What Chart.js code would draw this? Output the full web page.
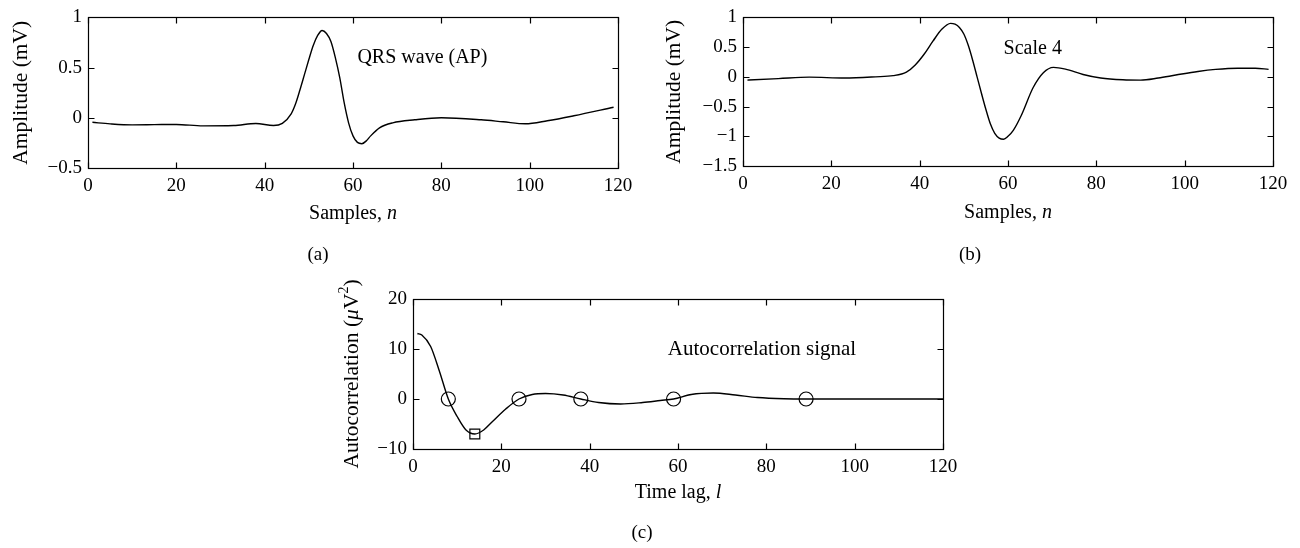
<!DOCTYPE html>
<html>
<head>
<meta charset="utf-8">
<script src="https://cdn.jsdelivr.net/npm/chart.js@4.4.1/dist/chart.umd.min.js"></script>
<style>
html, body { margin: 0; padding: 0; background: #fff; }
body { width: 1300px; height: 548px; position: relative; overflow: hidden; }
canvas { position: absolute; }
</style>
</head>
<body>
<canvas id="chartA" width="650" height="275" style="left:0;top:0"></canvas>
<canvas id="chartB" width="650" height="275" style="left:650px;top:0"></canvas>
<canvas id="chartC" width="700" height="268" style="left:300px;top:280px"></canvas>
<script>
// (a) QRS wave (AP)
const qrsSamples = [1, 5, 10, 15, 20, 26, 33, 38, 42, 44, 46, 47, 48, 49, 50, 51, 52, 53, 54, 55, 56, 57, 58, 59, 60, 61, 62, 63, 64, 66, 69, 74, 80, 89, 94, 99, 104, 110, 119];
const qrsValues  = [-0.045, -0.06, -0.07, -0.068, -0.066, -0.08, -0.077, -0.057, -0.077, -0.055, 0.04, 0.14, 0.28, 0.43, 0.58, 0.72, 0.82, 0.87, 0.84, 0.76, 0.6, 0.4, 0.15, -0.05, -0.18, -0.245, -0.258, -0.23, -0.18, -0.1, -0.05, -0.02, 0.0, -0.02, -0.04, -0.06, -0.03, 0.02, 0.105];

// (b) Scale 4
const scaleSamples = [1, 8, 15, 23, 30, 34, 37, 39, 41, 43, 45, 47, 48, 49, 50, 51, 52, 53, 54, 55, 56, 57, 58, 59, 60, 61.2, 63, 65.7, 68, 70.3, 73, 77, 81, 86, 90, 94, 98, 103, 107, 112, 116, 119];
const scaleValues  = [-0.055, -0.03, -0.005, -0.02, 0.0, 0.02, 0.08, 0.2, 0.38, 0.6, 0.8, 0.9, 0.885, 0.83, 0.72, 0.53, 0.28, 0.0, -0.28, -0.55, -0.79, -0.95, -1.03, -1.05, -1.0, -0.9, -0.65, -0.18, 0.07, 0.16, 0.13, 0.04, -0.02, -0.05, -0.055, -0.02, 0.03, 0.09, 0.125, 0.145, 0.145, 0.125];

// (c) Autocorrelation signal
const lagValues = [1, 2, 4, 6, 8, 10, 12, 14, 16, 18, 21, 24, 27, 30, 34, 38, 42, 47, 52, 56, 59, 63, 68, 73, 78, 84, 89, 100, 110, 120];
const acValues  = [13.1, 12.8, 10.5, 5.5, 0, -3.5, -6.2, -7, -6.2, -4.5, -2, 0, 0.9, 1.1, 0.8, 0, -0.7, -1.0, -0.7, -0.3, 0, 0.9, 1.2, 0.8, 0.3, 0.05, 0, 0, 0, 0];
const zeroLags = [8, 24, 38, 59, 89];
const zeroValues = [0, 0, 0, 0, 0];
const minLags = [14];
const minValues = [-7];

// ticks
const xTicks = [0, 20, 40, 60, 80, 100, 120];
const yTicksA = [-0.5, 0, 0.5, 1];
const yTicksB = [-1.5, -1, -0.5, 0, 0.5, 1];
const yTicksC = [-10, 0, 10, 20];

const FAMILY = '"Liberation Serif", "DejaVu Serif", serif';

function fontFor(seg, size) {
    const s = seg.sup ? Math.round(size * 0.65) : size;
    return (seg.italic ? 'italic ' : '') + s + 'px ' + FAMILY;
}

// draw text made of upright / italic / superscript pieces
function drawRich(ctx, segs, x, y, size, angle, align) {
    ctx.save();
    ctx.translate(x, y);
    ctx.rotate(angle || 0);
    const widths = segs.map(s => { ctx.font = fontFor(s, size); return ctx.measureText(s.t).width; });
    const total = widths.reduce((a, b) => a + b, 0);
    let cx = align === 'left' ? 0 : -total / 2;
    ctx.textBaseline = 'middle';
    ctx.textAlign = 'left';
    ctx.fillStyle = '#000';
    segs.forEach((s, i) => {
        ctx.font = fontFor(s, size);
        ctx.fillText(s.t, cx, s.sup ? -size * 0.36 : 0);
        cx += widths[i];
    });
    ctx.restore();
}

// box, inward ticks, titles and notes
const framePlugin = {
    id: 'frame',
    afterDraw(chart, args, opts) {
        const ctx = chart.ctx;
        const a = chart.chartArea;
        const xs = chart.scales.x, ys = chart.scales.y;
        const L = Math.round(a.left) + 0.5, R = Math.round(a.right) + 0.5;
        const T = Math.round(a.top) + 0.5, B = Math.round(a.bottom) + 0.5;
        ctx.save();
        ctx.strokeStyle = '#000';
        ctx.lineWidth = 1.2;
        ctx.strokeRect(L, T, R - L, B - T);
        ctx.beginPath();
        const tl = 6;
        xs.ticks.forEach(t => {
            const px = Math.round(xs.getPixelForValue(t.value)) + 0.5;
            ctx.moveTo(px, B); ctx.lineTo(px, B - tl);
            ctx.moveTo(px, T); ctx.lineTo(px, T + tl);
        });
        ys.ticks.forEach(t => {
            const py = Math.round(ys.getPixelForValue(t.value)) + 0.5;
            ctx.moveTo(L, py); ctx.lineTo(L + tl, py);
            ctx.moveTo(R, py); ctx.lineTo(R - tl, py);
        });
        ctx.stroke();
        ctx.restore();

        const cxArea = (a.left + a.right) / 2;
        const cyArea = (a.top + a.bottom) / 2;
        drawRich(ctx, opts.xTitle, cxArea, a.bottom + opts.xTitleOffset, 20, 0);
        drawRich(ctx, opts.yTitle, a.left - opts.yTitleOffset, cyArea, 21.5, -Math.PI / 2);
        drawRich(ctx, [{ t: opts.caption }], opts.captionX, a.bottom + opts.captionOffset, 19, 0);
        drawRich(ctx, [{ t: opts.note.text }], xs.getPixelForValue(opts.note.x), ys.getPixelForValue(opts.note.y), opts.note.size, 0, 'left');
    }
};

function minusSign(v) {
    return String(v).replace('-', '\u2212');
}

function curve(xv, yv) {
    return {
        data: xv.map((x, i) => ({ x: x, y: yv[i] })),
        borderColor: '#000',
        borderWidth: 1.4,
        pointRadius: 0,
        fill: false,
        cubicInterpolationMode: 'monotone'
    };
}

function markers(xv, yv, style, radius) {
    return {
        data: xv.map((x, i) => ({ x: x, y: yv[i] })),
        showLine: false,
        pointStyle: style,
        pointRadius: radius,
        pointBorderColor: '#000',
        pointBackgroundColor: 'rgba(0,0,0,0)',
        pointBorderWidth: 1.2
    };
}

function makePanel(id, cfg) {
    const tickFont = { family: FAMILY, size: 19 };
    return new Chart(document.getElementById(id).getContext('2d'), {
        type: 'line',
        data: { datasets: cfg.datasets },
        options: {
            responsive: false,
            animation: false,
            layout: { padding: { top: cfg.padTop, right: cfg.padRight, left: 0, bottom: 0 } },
            plugins: {
                legend: { display: false },
                tooltip: { enabled: false },
                frame: cfg.frame
            },
            scales: {
                x: {
                    type: 'linear',
                    min: 0,
                    max: 120,
                    grid: { display: false, drawTicks: false },
                    border: { display: false },
                    afterBuildTicks: s => { s.ticks = xTicks.map(v => ({ value: v })); },
                    afterFit: s => { s.height = cfg.xHeight; },
                    ticks: { font: tickFont, color: '#000', padding: 7, maxRotation: 0, autoSkip: false, callback: minusSign }
                },
                y: {
                    type: 'linear',
                    min: cfg.yMin,
                    max: cfg.yMax,
                    grid: { display: false, drawTicks: false },
                    border: { display: false },
                    afterBuildTicks: s => { s.ticks = cfg.yTicks.map(v => ({ value: v })); },
                    afterFit: s => { s.width = cfg.yWidth; },
                    ticks: { font: tickFont, color: '#000', padding: 6, autoSkip: false, callback: minusSign }
                }
            }
        },
        plugins: [framePlugin]
    });
}

const samplesTitle = [{ t: 'Samples, ' }, { t: 'n', italic: true }];
const ampTitle = [{ t: 'Amplitude (mV)' }];

makePanel('chartA', {
    datasets: [curve(qrsSamples, qrsValues)],
    padTop: 17, padRight: 32, xHeight: 107, yWidth: 88,
    yMin: -0.5, yMax: 1, yTicks: yTicksA,
    frame: {
        xTitle: samplesTitle, xTitleOffset: 46,
        yTitle: ampTitle, yTitleOffset: 67,
        caption: '(a)', captionX: 318, captionOffset: 87,
        note: { text: 'QRS wave (AP)', x: 61, y: 0.6, size: 20 }
    }
});

makePanel('chartB', {
    datasets: [curve(scaleSamples, scaleValues)],
    padTop: 16, padRight: 27, xHeight: 109, yWidth: 93,
    yMin: -1.5, yMax: 1, yTicks: yTicksB,
    frame: {
        xTitle: samplesTitle, xTitleOffset: 47,
        yTitle: ampTitle, yTitleOffset: 69,
        caption: '(b)', captionX: 320, captionOffset: 89,
        note: { text: 'Scale 4', x: 59, y: 0.48, size: 20 }
    }
});

makePanel('chartC', {
    datasets: [
        curve(lagValues, acValues),
        markers(zeroLags, zeroValues, 'circle', 7),
        markers(minLags, minValues, 'rect', 7)
    ],
    padTop: 19, padRight: 57, xHeight: 99, yWidth: 113,
    yMin: -10, yMax: 20, yTicks: yTicksC,
    frame: {
        xTitle: [{ t: 'Time lag, ' }, { t: 'l', italic: true }], xTitleOffset: 44,
        yTitle: [{ t: 'Autocorrelation (' }, { t: '\u03bc', italic: true }, { t: 'V' }, { t: '2', sup: true }, { t: ')' }], yTitleOffset: 61,
        caption: '(c)', captionX: 342, captionOffset: 84,
        note: { text: 'Autocorrelation signal', x: 57.7, y: 10, size: 21 }
    }
});
</script>
</body>
</html>
